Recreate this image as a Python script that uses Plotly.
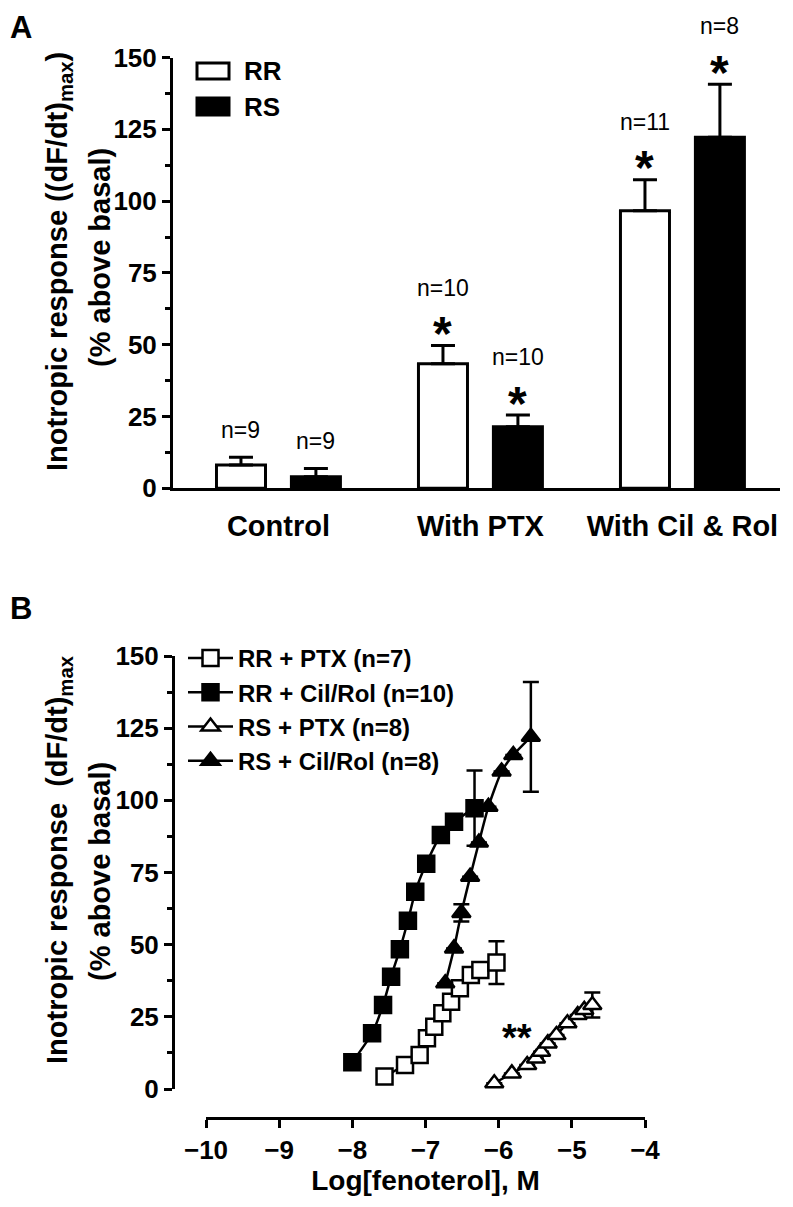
import plotly.graph_objects as go

# The page body adds an 8 px margin, so the figure is drawn 8 px in from the page edge.
PAGE_OFF = 8
W, H = 777, 1191
FONT = "Liberation Sans, Arial, sans-serif"


def fx(p):
    return (p - PAGE_OFF) / W


def fy(p):
    return 1 - (p - PAGE_OFF) / H


# ---------------- Panel A data ----------------
categories = ["Control", "With PTX", "With Cil & Rol"]
rr_mean = [8.1, 43.4, 96.6]
rr_sem = [2.7, 6.3, 10.8]
rs_mean = [4.0, 21.4, 122.2]
rs_sem = [2.9, 4.1, 18.5]
rr_n = ["n=9", "n=10", "n=11"]
rs_n = ["n=9", "n=10", "n=8"]
rr_sig = [False, True, True]
rs_sig = [False, True, True]

# ---------------- Panel B data ----------------
rr_ptx_x = [-7.56, -7.28, -7.08, -6.98, -6.88, -6.77, -6.65, -6.53, -6.38, -6.25, -6.03]
rr_ptx_y = [4.3, 8.3, 11.8, 17.6, 21.6, 26.2, 30.2, 34.9, 39.5, 41.2, 43.8]
rr_ptx_err = [None] * 10 + [7.4]

rr_cil_x = [-8.0, -7.73, -7.58, -7.47, -7.35, -7.24, -7.14, -6.99, -6.79, -6.61, -6.33]
rr_cil_y = [9.3, 19.3, 29.1, 38.9, 48.4, 58.3, 68.3, 78.0, 88.0, 92.6, 97.3]
rr_cil_err = [None] * 10 + [13.0]

rs_ptx_x = [-6.06, -5.82, -5.61, -5.49, -5.42, -5.33, -5.21, -5.06, -4.92, -4.83, -4.72]
rs_ptx_y = [2.0, 5.4, 8.3, 10.6, 12.9, 15.8, 18.7, 22.8, 25.6, 27.4, 29.1]
rs_ptx_err = [None] * 10 + [4.3]

rs_cil_x = [-6.73, -6.61, -6.51, -6.39, -6.27, -6.14, -5.96, -5.80, -5.56]
rs_cil_y = [36.6, 48.7, 61.0, 73.5, 85.4, 97.8, 110.0, 115.7, 122.0]
rs_cil_err = [None, None, 3.0, None, None, None, None, None, 19.0]

series_names = ["RR + PTX (n=7)", "RR + Cil/Rol (n=10)", "RS + PTX (n=8)", "RS + Cil/Rol (n=8)"]

fig = go.Figure()

# ---- Panel A bars
fig.add_trace(go.Bar(
    x=categories, y=rr_mean, name="RR", showlegend=False,
    marker=dict(color="white", line=dict(color="black", width=3)),
    error_y=dict(type="data", array=rr_sem, arrayminus=[0] * 3, symmetric=False,
                 color="black", thickness=3, width=12),
    xaxis="x", yaxis="y",
))
fig.add_trace(go.Bar(
    x=categories, y=rs_mean, name="RS", showlegend=False,
    marker=dict(color="black", line=dict(color="black", width=3)),
    error_y=dict(type="data", array=rs_sem, arrayminus=[0] * 3, symmetric=False,
                 color="black", thickness=3, width=12),
    xaxis="x", yaxis="y",
))

# ---- Panel B curves
specs = [
    (rr_ptx_x, rr_ptx_y, rr_ptx_err, "square", "white"),
    (rr_cil_x, rr_cil_y, rr_cil_err, "square", "black"),
    (rs_ptx_x, rs_ptx_y, rs_ptx_err, "triangle-up", "white"),
    (rs_cil_x, rs_cil_y, rs_cil_err, "triangle-up", "black"),
]
for (xs, ys, es, sym, col), nm in zip(specs, series_names):
    fig.add_trace(go.Scatter(
        x=xs, y=ys, name=nm, mode="lines+markers",
        line=dict(color="black", width=2.5, shape="spline", smoothing=0.6),
        marker=dict(symbol=sym, size=16, color=col, line=dict(color="black", width=2.5)),
        error_y=dict(type="data", array=es, color="black", thickness=2.5, width=8),
        xaxis="x2", yaxis="y2",
    ))

axis_common = dict(showline=True, linecolor="black", linewidth=3, zeroline=False,
                   showgrid=False, ticks="outside", tickcolor="black", tickwidth=3, ticklen=8,
                   automargin=False)
tickfont = dict(family=FONT, size=26, color="black", weight="bold")

fig.update_layout(
    width=W, height=H, margin=dict(l=0, r=0, t=0, b=0, pad=0, autoexpand=False),
    paper_bgcolor="white", plot_bgcolor="rgba(0,0,0,0)",
    barmode="group", bargap=0.258, bargroupgap=0.346,
    xaxis=dict(domain=[fx(173), fx(780)], anchor="y", type="category",
               range=[-0.522, 2.483], showline=True, linecolor="black", linewidth=3,
               ticks="", showgrid=False, zeroline=False, automargin=False,
               tickfont=dict(family=FONT, size=29, color="black", weight="bold"),
               ticklabelstandoff=10),
    yaxis=dict(domain=[fy(488.3), fy(57.5)], anchor="x", range=[0, 150],
               tickvals=[0, 25, 50, 75, 100, 125, 150], tickfont=tickfont,
               minor=dict(dtick=12.5, ticks="outside", ticklen=5, tickwidth=3, tickcolor="black"),
               **axis_common),
    xaxis2=dict(domain=[fx(206), fx(645)], anchor="free", position=fy(1118), range=[-10, -4],
                tickvals=[-10, -9, -8, -7, -6, -5, -4], tickfont=tickfont,
                title=dict(text="Log[fenoterol], M", standoff=6,
                           font=dict(family=FONT, size=28, color="black", weight="bold")),
                **axis_common),
    yaxis2=dict(domain=[fy(1089), fy(656)], anchor="free", position=fx(173), range=[0, 150],
                tickvals=[0, 25, 50, 75, 100, 125, 150], tickfont=tickfont,
                minor=dict(dtick=12.5, ticks="outside", ticklen=5, tickwidth=3, tickcolor="black"),
                **axis_common),
    legend=dict(x=fx(183), y=fy(636), xanchor="left", yanchor="top",
                font=dict(family=FONT, size=24, color="black", weight="bold"),
                bgcolor="rgba(0,0,0,0)", itemwidth=45, tracegroupgap=0),
    showlegend=True,
)

ann = []
# Panel A significance marks and n labels
off = 0.1856
for i in range(3):
    for dx, m, s, n, sig in ((-off, rr_mean[i], rr_sem[i], rr_n[i], rr_sig[i]),
                             (off, rs_mean[i], rs_sem[i], rs_n[i], rs_sig[i])):
        top = m + s
        if sig:
            ann.append(dict(x=i + dx, y=top, xref="x", yref="y", text="*", showarrow=False,
                            yanchor="middle", yshift=12,
                            font=dict(family=FONT, size=48, color="black", weight="bold")))
            ann.append(dict(x=i + dx, y=top, xref="x", yref="y", text=n, showarrow=False,
                            yanchor="middle", yshift=58,
                            font=dict(family=FONT, size=23, color="black")))
        else:
            ann.append(dict(x=i + dx, y=top, xref="x", yref="y", text=n, showarrow=False,
                            yanchor="middle", yshift=27,
                            font=dict(family=FONT, size=23, color="black")))

# "**" in panel B
ann.append(dict(x=-5.75, y=19.8, xref="x2", yref="y2", text="**", showarrow=False,
                yanchor="middle", yshift=-6,
                font=dict(family=FONT, size=38, color="black", weight="bold")))

title_font = dict(family=FONT, size=29, color="black", weight="bold")
for yc1, yc2, l1 in ((262, 258, "Inotropic response ((dF/dt)<sub>max</sub>)"),
                     (860, 872, "Inotropic response  (dF/dt)<sub>max</sub>")):
    ann.append(dict(x=fx(59), y=fy(yc1), xref="paper", yref="paper", text=l1, textangle=-90,
                    showarrow=False, xanchor="center", yanchor="middle", font=title_font))
    ann.append(dict(x=fx(100), y=fy(yc2), xref="paper", yref="paper", text="(% above basal)",
                    textangle=-90, showarrow=False, xanchor="center", yanchor="middle",
                    font=title_font))

# Panel letters
ann.append(dict(x=fx(21), y=1.0, xref="paper", yref="paper", text="A", showarrow=False,
                xanchor="center", yanchor="top",
                font=dict(family=FONT, size=31, color="black", weight="bold")))
ann.append(dict(x=fx(21), y=fy(608), xref="paper", yref="paper", text="B", showarrow=False,
                xanchor="center", yanchor="middle",
                font=dict(family=FONT, size=31, color="black", weight="bold")))

# Panel A legend text
for txt, yc in (("RR", 71), ("RS", 107)):
    ann.append(dict(x=fx(242), y=fy(yc), xref="paper", yref="paper", text=txt, showarrow=False,
                    xanchor="left", yanchor="middle",
                    font=dict(family=FONT, size=26, color="black", weight="bold")))

fig.update_layout(annotations=ann)

# Panel A legend boxes
fig.add_shape(type="rect", xref="paper", yref="paper", x0=fx(197), x1=fx(229), y0=fy(79), y1=fy(63),
              line=dict(color="black", width=3), fillcolor="white")
fig.add_shape(type="rect", xref="paper", yref="paper", x0=fx(197), x1=fx(229), y0=fy(115), y1=fy(98),
              line=dict(color="black", width=3), fillcolor="black")

fig.write_html("out.html")
